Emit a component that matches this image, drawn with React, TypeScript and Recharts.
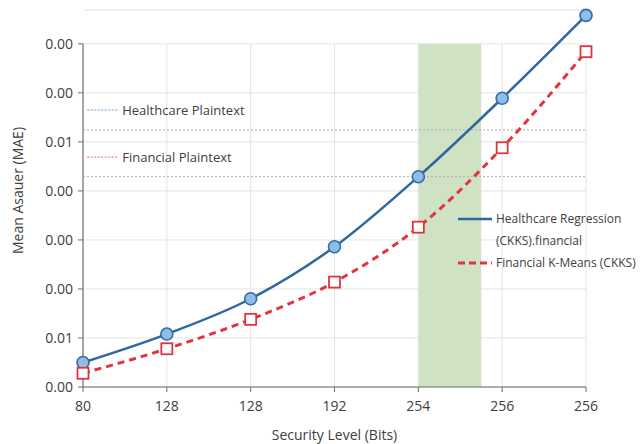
import React from 'react';
import {
  LineChart, Line, XAxis, YAxis, CartesianGrid, ReferenceArea, ReferenceLine, Legend, Label,
} from 'recharts';

const xLabels = ['80', '128', '128', '192', '254', '256', '256'];
const healthcareMae = [0.5, 1.08, 1.8, 2.86, 4.29, 5.89, 7.58];
const financialMae = [0.28, 0.78, 1.38, 2.14, 3.26, 4.88, 6.84];
const yTickLabels = ['0.00', '0.01', '0.00', '0.00', '0.00', '0.01', '0.00', '0.00'];
const yTicks = [0, 1, 2, 3, 4, 5, 6, 7];
const healthcarePlaintext = 5.245;
const financialPlaintext = 4.29;
const healthcarePlaintextLabelY = 5.65;
const financialPlaintextLabelY = 4.69;
const highlightBand = [4, 4.75];

const data = xLabels.map((l, i) => ({ idx: i, healthcare: healthcareMae[i], financial: financialMae[i] }));

const FONT = '"Open Sans", "Noto Sans", sans-serif';
const TEXT = '#404040';
const GRID = '#e4e4e4';
const AXIS = '#6a6a6a';
const BLUE = '#2d68a0';
const RED = '#e2343f';

const BlueDot = (props: any) => {
  const { cx, cy } = props;
  if (cx == null || cy == null) return null;
  return <circle cx={cx} cy={cy} r={6} fill="#8fbde8" stroke="#2f6ea8" strokeWidth={1.6} />;
};

const RedSquare = (props: any) => {
  const { cx, cy } = props;
  if (cx == null || cy == null) return null;
  return <rect x={cx - 5.5} y={cy - 5.5} width={11} height={11} fill="#ffffff" stroke={RED} strokeWidth={1.8} />;
};

const LegendContent = () => (
  <div style={{ fontFamily: FONT, fontSize: 12, color: TEXT, lineHeight: '22px', whiteSpace: 'nowrap' }}>
    <div style={{ display: 'flex', alignItems: 'center' }}>
      <svg width={34} height={10} style={{ marginRight: 4 }}>
        <line x1={0} y1={5} x2={34} y2={5} stroke={BLUE} strokeWidth={2.5} />
      </svg>
      <span>Healthcare Regression</span>
    </div>
    <div style={{ paddingLeft: 38 }}>(CKKS).financial</div>
    <div style={{ display: 'flex', alignItems: 'center' }}>
      <svg width={34} height={10} style={{ marginRight: 4 }}>
        <line x1={0} y1={5} x2={34} y2={5} stroke={RED} strokeWidth={3} strokeDasharray="7 4" />
      </svg>
      <span>Financial K-Means (CKKS)</span>
    </div>
  </div>
);

export default function App() {
  return (
    <div style={{ position: 'absolute', left: 0, top: 0, width: 640, height: 444, background: '#fff', overflow: 'hidden' }}>
      <LineChart width={640} height={444} data={data} margin={{ top: 10, right: 54, bottom: 0, left: 0 }}>
        <CartesianGrid vertical={false} stroke={GRID} />
        <ReferenceArea x1={highlightBand[0]} x2={highlightBand[1]} y1={0} y2={7} fill="#cfe2c4" fillOpacity={1} stroke="none" />
        {xLabels.map((_, i) =>
          i === 0 ? null : (
            <ReferenceLine key={'v' + i} segment={[{ x: i, y: 0 }, { x: i, y: 7 }]} stroke={GRID} />
          ),
        )}
        <ReferenceLine segment={[{ x: 0, y: 0 }, { x: 0, y: 7 }]} stroke={AXIS} strokeWidth={1.2} />
        <ReferenceLine segment={[{ x: 0, y: healthcarePlaintext }, { x: 6, y: healthcarePlaintext }]} stroke="#a7aeb8" strokeDasharray="2 2" />
        <ReferenceLine segment={[{ x: 0, y: financialPlaintext }, { x: 6, y: financialPlaintext }]} stroke="#b8a9ac" strokeDasharray="2 2" />
        <ReferenceLine
          segment={[{ x: 0.05, y: healthcarePlaintextLabelY }, { x: 0.42, y: healthcarePlaintextLabelY }]}
          stroke="#6f9fc8"
          strokeDasharray="2 1.5"
          label={{ value: 'Healthcare Plaintext', position: 'right', fill: TEXT, fontSize: 13, fontFamily: FONT, offset: 4 }}
        />
        <ReferenceLine
          segment={[{ x: 0.05, y: financialPlaintextLabelY }, { x: 0.42, y: financialPlaintextLabelY }]}
          stroke="#e06a7a"
          strokeDasharray="2 1.5"
          label={{ value: 'Financial Plaintext', position: 'right', fill: TEXT, fontSize: 13, fontFamily: FONT, offset: 4 }}
        />
        <XAxis
          dataKey="idx"
          type="number"
          domain={[0, 6]}
          ticks={[0, 1, 2, 3, 4, 5, 6]}
          tickFormatter={(v: number) => xLabels[v]}
          height={57}
          stroke={AXIS}
          tick={{ fill: TEXT, fontSize: 14, fontFamily: FONT }}
          tickSize={5}
          tickMargin={9}
        >
          <Label value="Security Level (Bits)" position="insideBottom" offset={4} fill={TEXT} fontSize={14} fontFamily={FONT} />
        </XAxis>
        <YAxis
          type="number"
          domain={[0, 7.69]}
          ticks={yTicks}
          tickFormatter={(v: number) => yTickLabels[v]}
          width={83}
          axisLine={false}
          stroke={AXIS}
          tick={{ fill: TEXT, fontSize: 14, fontFamily: FONT }}
          tickSize={5}
          tickMargin={5}
        >
          <Label value="Mean Asauer (MAE)" angle={-90} position="center" dx={-23} dy={-8} fill={TEXT} fontSize={14} fontFamily={FONT} />
        </YAxis>
        <Line
          type="monotone"
          dataKey="healthcare"
          stroke={BLUE}
          strokeWidth={2.5}
          dot={<BlueDot />}
          activeDot={false}
          isAnimationActive={false}
        />
        <Line
          type="monotone"
          dataKey="financial"
          stroke={RED}
          strokeWidth={3}
          strokeDasharray="7 5"
          dot={<RedSquare />}
          activeDot={false}
          isAnimationActive={false}
        />
        <Legend
          layout="vertical"
          align="center"
          verticalAlign="middle"
          content={<LegendContent />}
          wrapperStyle={{ position: 'absolute', left: 458, top: 208, width: 190 }}
        />
      </LineChart>
    </div>
  );
}
